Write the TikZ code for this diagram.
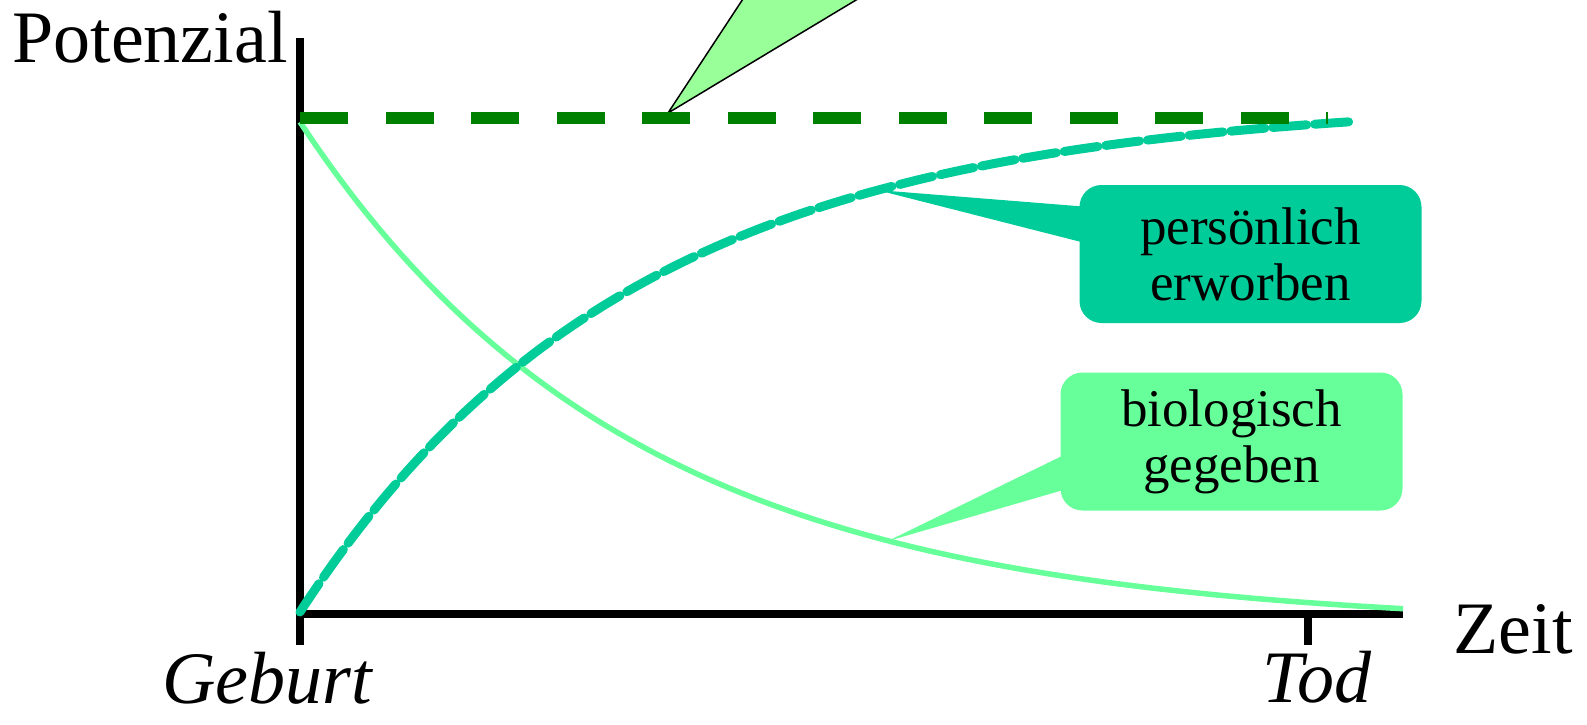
\documentclass[tikz,border=0pt]{standalone}
\usepackage{fontspec}
\setmainfont{LiberationSerif}[Extension=.ttf, UprightFont=*-Regular, ItalicFont=*-Italic, BoldFont=*-Bold, BoldItalicFont=*-BoldItalic]
\usepackage{tikz}
\usetikzlibrary{positioning,calc}
\definecolor{erwcol}{HTML}{00CC99}
\definecolor{biocol}{HTML}{66FF99}
\definecolor{anlcol}{HTML}{99FF99}
\definecolor{maxcol}{HTML}{008000}

\begin{document}
\begin{tikzpicture}[
    x=0.5pt, y=-0.5pt,
    axis/.style={draw=black, line width=4pt},
    lbl/.style={inner sep=0pt, font=\fontsize{37}{44}\selectfont},
    itlbl/.style={inner sep=0pt, font=\fontsize{37}{44}\selectfont\itshape},
    box/.style={rounded corners=11pt, minimum width=171pt, minimum height=69pt, inner sep=0pt, align=center, font=\fontsize{26.5}{28}\selectfont},
    biocurve/.style={draw=biocol, line width=2.75pt},
    erwcurve/.style={draw=erwcol, line width=4.5pt, line cap=round, dash pattern=on 17pt off 4pt},
    maxline/.style={draw=maxcol, line width=6pt, dash pattern=on 24pt off 18.75pt}
]
    \useasboundingbox (0,0) rectangle (1587,724);

    \coordinate (ytop) at (300,38);
    \coordinate (ybot) at (300,645);
    \coordinate (xstart) at (296,614);
    \coordinate (xend) at (1403,614);
    \coordinate (tod) at (1308,614);
    \coordinate (todbot) at (1308,645);
    \coordinate (maxstart) at (300,118);
    \coordinate (maxend) at (1328,118);
    \coordinate (atip) at (668,113);
    \coordinate (ptip) at (877,190);
    \coordinate (btip) at (888,541);

    \draw[axis] (ytop) -- (ybot);
    \draw[axis] (xstart) -- (xend);
    \draw[axis] (tod) -- (todbot);

    \draw[biocurve] plot[domain=0:1103, samples=90, smooth] ({300+\x},{122+505*(1-exp(-0.003*\x))});
    \draw[erwcurve] plot[domain=0:1051, samples=90, smooth] ({300+\x},{612-512*(1-exp(-0.003*\x))});

    \begin{scope}
        \clip (0,0) rectangle (1587,724);
        \draw[line width=0.75pt, fill=anlcol] (atip) -- (762,-30) -- (906,-30) -- cycle;
    \end{scope}
    \draw[maxline] (maxstart) -- (maxend);

    \node[box, fill=erwcol] (pers) at (1250.5,254) {persönlich\\erworben};
    \node[box, fill=biocol] (bio) at (1231.5,441.5) {biologisch\\gegeben};
    \fill[erwcol] (ptip) -- ([xshift=5pt,yshift=23.5pt]pers.west) -- ([xshift=5pt,yshift=5pt]pers.west) -- cycle;
    \fill[biocol] (btip) -- ([xshift=5pt,yshift=-5.25pt]bio.west) -- ([xshift=5pt,yshift=-23.25pt]bio.west) -- cycle;

    \node[lbl, anchor=base west] (pot) at (12,62) {Potenzial};
    \node[lbl, anchor=base west] (zeit) at (1453,653) {Zeit};
    \node[itlbl, anchor=base] (geb) at (267,703) {Geburt};
    \node[itlbl, anchor=base] (tot) at (1317,702) {Tod};
\end{tikzpicture}
\end{document}
